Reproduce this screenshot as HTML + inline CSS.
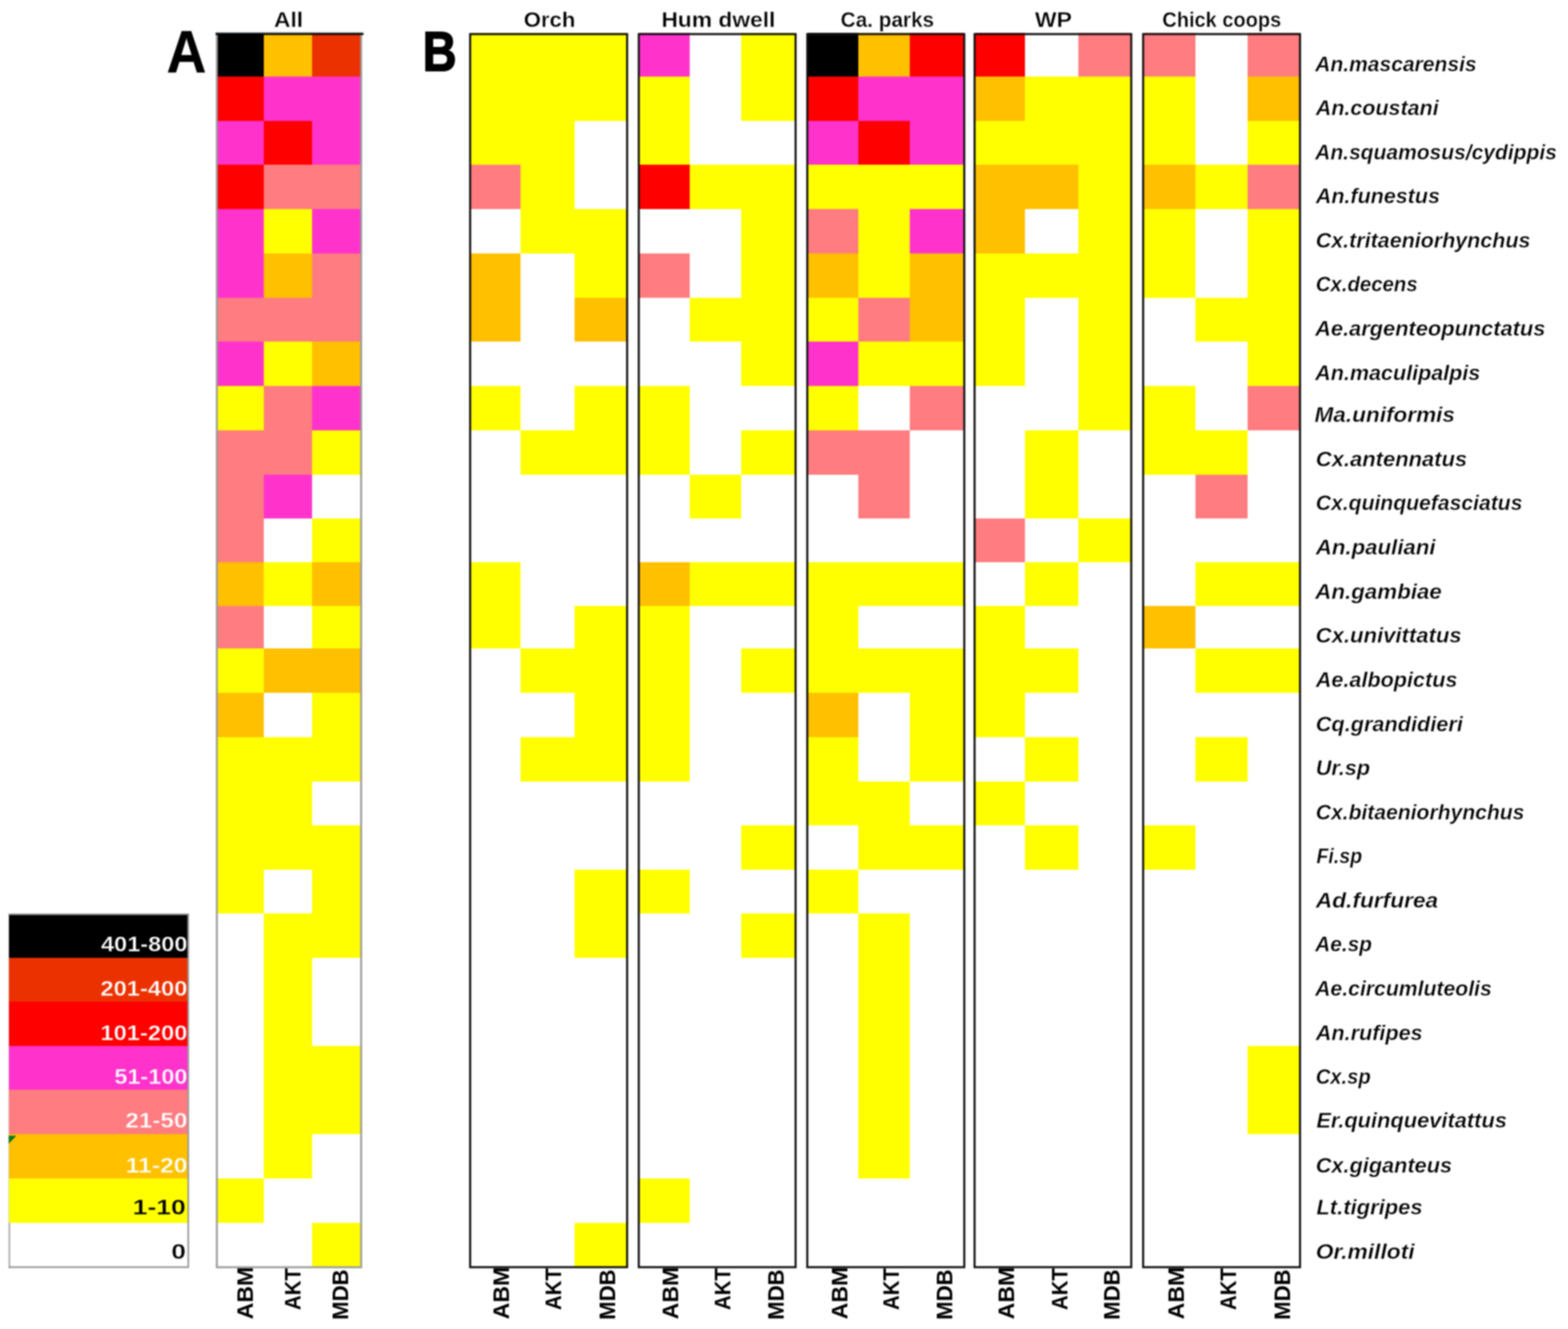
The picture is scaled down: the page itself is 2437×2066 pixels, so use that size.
<!DOCTYPE html>
<html><head><meta charset="utf-8"><title>Mosquito abundance heatmap</title>
<style>html,body{margin:0;padding:0;background:#fff;width:2437px;height:2066px}svg{display:block;filter:blur(0.80px)}text{font-family:"Liberation Sans",Arial,sans-serif;font-weight:bold}.it{font-style:italic}</style></head><body>
<svg width="2437" height="2066" viewBox="0 0 2437 2066">
<rect x="0" y="0" width="2437" height="2066" fill="#fff"/>
<rect x="13.5" y="1420.5" width="2.2" height="551" fill="#a0a0a0"/>
<g shape-rendering="crispEdges">
<rect x="336.00" y="50.50" width="74.10" height="68.30" fill="#000000"/>
<rect x="336.00" y="118.80" width="74.10" height="68.73" fill="#FF0000"/>
<rect x="336.00" y="187.53" width="74.10" height="68.73" fill="#FF33CC"/>
<rect x="336.00" y="256.27" width="74.10" height="68.73" fill="#FF0000"/>
<rect x="336.00" y="325.00" width="74.10" height="137.53" fill="#FF33CC"/>
<rect x="336.00" y="462.53" width="74.10" height="68.77" fill="#FF7C80"/>
<rect x="336.00" y="531.30" width="74.10" height="68.80" fill="#FF33CC"/>
<rect x="336.00" y="600.10" width="74.10" height="68.80" fill="#FFFF00"/>
<rect x="336.00" y="668.90" width="74.10" height="205.00" fill="#FF7C80"/>
<rect x="336.00" y="873.90" width="74.10" height="68.10" fill="#FFC000"/>
<rect x="336.00" y="942.00" width="74.10" height="65.90" fill="#FF7C80"/>
<rect x="336.00" y="1007.90" width="74.10" height="68.90" fill="#FFFF00"/>
<rect x="336.00" y="1076.80" width="74.10" height="68.90" fill="#FFC000"/>
<rect x="336.00" y="1145.70" width="74.10" height="274.48" fill="#FFFF00"/>
<rect x="336.00" y="1832.05" width="74.10" height="69.05" fill="#FFFF00"/>
<rect x="410.10" y="50.50" width="74.40" height="68.30" fill="#FFC000"/>
<rect x="410.10" y="118.80" width="74.40" height="68.73" fill="#FF33CC"/>
<rect x="410.10" y="187.53" width="74.40" height="68.73" fill="#FF0000"/>
<rect x="410.10" y="256.27" width="74.40" height="68.73" fill="#FF7C80"/>
<rect x="410.10" y="325.00" width="74.40" height="68.77" fill="#FFFF00"/>
<rect x="410.10" y="393.77" width="74.40" height="68.77" fill="#FFC000"/>
<rect x="410.10" y="462.53" width="74.40" height="68.77" fill="#FF7C80"/>
<rect x="410.10" y="531.30" width="74.40" height="68.80" fill="#FFFF00"/>
<rect x="410.10" y="600.10" width="74.40" height="137.60" fill="#FF7C80"/>
<rect x="410.10" y="737.70" width="74.40" height="68.10" fill="#FF33CC"/>
<rect x="410.10" y="873.90" width="74.40" height="68.10" fill="#FFFF00"/>
<rect x="410.10" y="1007.90" width="74.40" height="68.90" fill="#FFC000"/>
<rect x="410.10" y="1145.70" width="74.40" height="205.95" fill="#FFFF00"/>
<rect x="410.10" y="1420.17" width="74.40" height="411.88" fill="#FFFF00"/>
<rect x="484.50" y="50.50" width="76.00" height="68.30" fill="#EC3100"/>
<rect x="484.50" y="118.80" width="76.00" height="137.47" fill="#FF33CC"/>
<rect x="484.50" y="256.27" width="76.00" height="68.73" fill="#FF7C80"/>
<rect x="484.50" y="325.00" width="76.00" height="68.77" fill="#FF33CC"/>
<rect x="484.50" y="393.77" width="76.00" height="137.53" fill="#FF7C80"/>
<rect x="484.50" y="531.30" width="76.00" height="68.80" fill="#FFC000"/>
<rect x="484.50" y="600.10" width="76.00" height="68.80" fill="#FF33CC"/>
<rect x="484.50" y="668.90" width="76.00" height="68.80" fill="#FFFF00"/>
<rect x="484.50" y="805.80" width="76.00" height="68.10" fill="#FFFF00"/>
<rect x="484.50" y="873.90" width="76.00" height="68.10" fill="#FFC000"/>
<rect x="484.50" y="942.00" width="76.00" height="65.90" fill="#FFFF00"/>
<rect x="484.50" y="1007.90" width="76.00" height="68.90" fill="#FFC000"/>
<rect x="484.50" y="1076.80" width="76.00" height="137.80" fill="#FFFF00"/>
<rect x="484.50" y="1283.12" width="76.00" height="205.58" fill="#FFFF00"/>
<rect x="484.50" y="1625.50" width="76.00" height="137.50" fill="#FFFF00"/>
<rect x="484.50" y="1901.10" width="76.00" height="68.50" fill="#FFFF00"/>
<rect x="731.50" y="50.50" width="77.50" height="205.77" fill="#FFFF00"/>
<rect x="731.50" y="256.27" width="77.50" height="68.73" fill="#FF7C80"/>
<rect x="731.50" y="393.77" width="77.50" height="137.53" fill="#FFC000"/>
<rect x="731.50" y="600.10" width="77.50" height="68.80" fill="#FFFF00"/>
<rect x="731.50" y="873.90" width="77.50" height="134.00" fill="#FFFF00"/>
<rect x="809.00" y="50.50" width="83.60" height="343.27" fill="#FFFF00"/>
<rect x="809.00" y="668.90" width="83.60" height="68.80" fill="#FFFF00"/>
<rect x="809.00" y="1007.90" width="83.60" height="68.90" fill="#FFFF00"/>
<rect x="809.00" y="1145.70" width="83.60" height="68.90" fill="#FFFF00"/>
<rect x="892.60" y="50.50" width="80.90" height="137.03" fill="#FFFF00"/>
<rect x="892.60" y="325.00" width="80.90" height="137.53" fill="#FFFF00"/>
<rect x="892.60" y="462.53" width="80.90" height="68.77" fill="#FFC000"/>
<rect x="892.60" y="600.10" width="80.90" height="137.60" fill="#FFFF00"/>
<rect x="892.60" y="942.00" width="80.90" height="272.60" fill="#FFFF00"/>
<rect x="892.60" y="1351.65" width="80.90" height="137.05" fill="#FFFF00"/>
<rect x="892.60" y="1901.10" width="80.90" height="68.50" fill="#FFFF00"/>
<rect x="993.50" y="50.50" width="78.00" height="68.30" fill="#FF33CC"/>
<rect x="993.50" y="118.80" width="78.00" height="137.47" fill="#FFFF00"/>
<rect x="993.50" y="256.27" width="78.00" height="68.73" fill="#FF0000"/>
<rect x="993.50" y="393.77" width="78.00" height="68.77" fill="#FF7C80"/>
<rect x="993.50" y="600.10" width="78.00" height="137.60" fill="#FFFF00"/>
<rect x="993.50" y="873.90" width="78.00" height="68.10" fill="#FFC000"/>
<rect x="993.50" y="942.00" width="78.00" height="272.60" fill="#FFFF00"/>
<rect x="993.50" y="1351.65" width="78.00" height="68.52" fill="#FFFF00"/>
<rect x="993.50" y="1832.05" width="78.00" height="69.05" fill="#FFFF00"/>
<rect x="1071.50" y="256.27" width="80.10" height="68.73" fill="#FFFF00"/>
<rect x="1071.50" y="462.53" width="80.10" height="68.77" fill="#FFFF00"/>
<rect x="1071.50" y="737.70" width="80.10" height="68.10" fill="#FFFF00"/>
<rect x="1071.50" y="873.90" width="80.10" height="68.10" fill="#FFFF00"/>
<rect x="1151.60" y="50.50" width="83.60" height="137.03" fill="#FFFF00"/>
<rect x="1151.60" y="256.27" width="83.60" height="343.83" fill="#FFFF00"/>
<rect x="1151.60" y="668.90" width="83.60" height="68.80" fill="#FFFF00"/>
<rect x="1151.60" y="873.90" width="83.60" height="68.10" fill="#FFFF00"/>
<rect x="1151.60" y="1007.90" width="83.60" height="68.90" fill="#FFFF00"/>
<rect x="1151.60" y="1283.12" width="83.60" height="68.53" fill="#FFFF00"/>
<rect x="1151.60" y="1420.17" width="83.60" height="68.53" fill="#FFFF00"/>
<rect x="1255.50" y="50.50" width="78.00" height="68.30" fill="#000000"/>
<rect x="1255.50" y="118.80" width="78.00" height="68.73" fill="#FF0000"/>
<rect x="1255.50" y="187.53" width="78.00" height="68.73" fill="#FF33CC"/>
<rect x="1255.50" y="256.27" width="78.00" height="68.73" fill="#FFFF00"/>
<rect x="1255.50" y="325.00" width="78.00" height="68.77" fill="#FF7C80"/>
<rect x="1255.50" y="393.77" width="78.00" height="68.77" fill="#FFC000"/>
<rect x="1255.50" y="462.53" width="78.00" height="68.77" fill="#FFFF00"/>
<rect x="1255.50" y="531.30" width="78.00" height="68.80" fill="#FF33CC"/>
<rect x="1255.50" y="600.10" width="78.00" height="68.80" fill="#FFFF00"/>
<rect x="1255.50" y="668.90" width="78.00" height="68.80" fill="#FF7C80"/>
<rect x="1255.50" y="873.90" width="78.00" height="202.90" fill="#FFFF00"/>
<rect x="1255.50" y="1076.80" width="78.00" height="68.90" fill="#FFC000"/>
<rect x="1255.50" y="1145.70" width="78.00" height="137.43" fill="#FFFF00"/>
<rect x="1255.50" y="1351.65" width="78.00" height="68.52" fill="#FFFF00"/>
<rect x="1333.50" y="50.50" width="80.60" height="68.30" fill="#FFC000"/>
<rect x="1333.50" y="118.80" width="80.60" height="68.73" fill="#FF33CC"/>
<rect x="1333.50" y="187.53" width="80.60" height="68.73" fill="#FF0000"/>
<rect x="1333.50" y="256.27" width="80.60" height="206.27" fill="#FFFF00"/>
<rect x="1333.50" y="462.53" width="80.60" height="68.77" fill="#FF7C80"/>
<rect x="1333.50" y="531.30" width="80.60" height="68.80" fill="#FFFF00"/>
<rect x="1333.50" y="668.90" width="80.60" height="136.90" fill="#FF7C80"/>
<rect x="1333.50" y="873.90" width="80.60" height="68.10" fill="#FFFF00"/>
<rect x="1333.50" y="1007.90" width="80.60" height="68.90" fill="#FFFF00"/>
<rect x="1333.50" y="1214.60" width="80.60" height="137.05" fill="#FFFF00"/>
<rect x="1333.50" y="1420.17" width="80.60" height="411.88" fill="#FFFF00"/>
<rect x="1414.10" y="50.50" width="83.40" height="68.30" fill="#FF0000"/>
<rect x="1414.10" y="118.80" width="83.40" height="137.47" fill="#FF33CC"/>
<rect x="1414.10" y="256.27" width="83.40" height="68.73" fill="#FFFF00"/>
<rect x="1414.10" y="325.00" width="83.40" height="68.77" fill="#FF33CC"/>
<rect x="1414.10" y="393.77" width="83.40" height="137.53" fill="#FFC000"/>
<rect x="1414.10" y="531.30" width="83.40" height="68.80" fill="#FFFF00"/>
<rect x="1414.10" y="600.10" width="83.40" height="68.80" fill="#FF7C80"/>
<rect x="1414.10" y="873.90" width="83.40" height="68.10" fill="#FFFF00"/>
<rect x="1414.10" y="1007.90" width="83.40" height="206.70" fill="#FFFF00"/>
<rect x="1414.10" y="1283.12" width="83.40" height="68.53" fill="#FFFF00"/>
<rect x="1515.50" y="50.50" width="77.50" height="68.30" fill="#FF0000"/>
<rect x="1515.50" y="118.80" width="77.50" height="68.73" fill="#FFC000"/>
<rect x="1515.50" y="187.53" width="77.50" height="68.73" fill="#FFFF00"/>
<rect x="1515.50" y="256.27" width="77.50" height="137.50" fill="#FFC000"/>
<rect x="1515.50" y="393.77" width="77.50" height="206.33" fill="#FFFF00"/>
<rect x="1515.50" y="805.80" width="77.50" height="68.10" fill="#FF7C80"/>
<rect x="1515.50" y="942.00" width="77.50" height="203.70" fill="#FFFF00"/>
<rect x="1515.50" y="1214.60" width="77.50" height="68.53" fill="#FFFF00"/>
<rect x="1593.00" y="118.80" width="83.40" height="137.47" fill="#FFFF00"/>
<rect x="1593.00" y="256.27" width="83.40" height="68.73" fill="#FFC000"/>
<rect x="1593.00" y="393.77" width="83.40" height="68.77" fill="#FFFF00"/>
<rect x="1593.00" y="668.90" width="83.40" height="136.90" fill="#FFFF00"/>
<rect x="1593.00" y="873.90" width="83.40" height="68.10" fill="#FFFF00"/>
<rect x="1593.00" y="1007.90" width="83.40" height="68.90" fill="#FFFF00"/>
<rect x="1593.00" y="1145.70" width="83.40" height="68.90" fill="#FFFF00"/>
<rect x="1593.00" y="1283.12" width="83.40" height="68.53" fill="#FFFF00"/>
<rect x="1676.40" y="50.50" width="80.60" height="68.30" fill="#FF7C80"/>
<rect x="1676.40" y="118.80" width="80.60" height="550.10" fill="#FFFF00"/>
<rect x="1676.40" y="805.80" width="80.60" height="68.10" fill="#FFFF00"/>
<rect x="1777.50" y="50.50" width="80.50" height="68.30" fill="#FF7C80"/>
<rect x="1777.50" y="118.80" width="80.50" height="137.47" fill="#FFFF00"/>
<rect x="1777.50" y="256.27" width="80.50" height="68.73" fill="#FFC000"/>
<rect x="1777.50" y="325.00" width="80.50" height="137.53" fill="#FFFF00"/>
<rect x="1777.50" y="600.10" width="80.50" height="137.60" fill="#FFFF00"/>
<rect x="1777.50" y="942.00" width="80.50" height="65.90" fill="#FFC000"/>
<rect x="1777.50" y="1283.12" width="80.50" height="68.53" fill="#FFFF00"/>
<rect x="1858.00" y="256.27" width="80.70" height="68.73" fill="#FFFF00"/>
<rect x="1858.00" y="462.53" width="80.70" height="68.77" fill="#FFFF00"/>
<rect x="1858.00" y="668.90" width="80.70" height="68.80" fill="#FFFF00"/>
<rect x="1858.00" y="737.70" width="80.70" height="68.10" fill="#FF7C80"/>
<rect x="1858.00" y="873.90" width="80.70" height="68.10" fill="#FFFF00"/>
<rect x="1858.00" y="1007.90" width="80.70" height="68.90" fill="#FFFF00"/>
<rect x="1858.00" y="1145.70" width="80.70" height="68.90" fill="#FFFF00"/>
<rect x="1938.70" y="50.50" width="80.80" height="68.30" fill="#FF7C80"/>
<rect x="1938.70" y="118.80" width="80.80" height="68.73" fill="#FFC000"/>
<rect x="1938.70" y="187.53" width="80.80" height="68.73" fill="#FFFF00"/>
<rect x="1938.70" y="256.27" width="80.80" height="68.73" fill="#FF7C80"/>
<rect x="1938.70" y="325.00" width="80.80" height="275.10" fill="#FFFF00"/>
<rect x="1938.70" y="600.10" width="80.80" height="68.80" fill="#FF7C80"/>
<rect x="1938.70" y="873.90" width="80.80" height="68.10" fill="#FFFF00"/>
<rect x="1938.70" y="1007.90" width="80.80" height="68.90" fill="#FFFF00"/>
<rect x="1938.70" y="1625.50" width="80.80" height="137.50" fill="#FFFF00"/>
<rect x="13.5" y="1420.17" width="278.00" height="68.54" fill="#000000"/>
<rect x="13.5" y="1488.70" width="278.00" height="68.54" fill="#EC3100"/>
<rect x="13.5" y="1557.20" width="278.00" height="68.54" fill="#FF0000"/>
<rect x="13.5" y="1625.50" width="278.00" height="68.54" fill="#FF33CC"/>
<rect x="13.5" y="1694.00" width="278.00" height="68.54" fill="#FF7C80"/>
<rect x="13.5" y="1763.00" width="278.00" height="68.54" fill="#FFC000"/>
<rect x="13.5" y="1832.05" width="278.00" height="68.54" fill="#FFFF00"/>
</g>
<path d="M337 54 V1969.9 H561.3 V54" fill="none" stroke="#9a9a9a" stroke-width="3"/>
<rect x="335" y="50" width="230" height="1.8" fill="#8a9aa0"/>
<rect x="335" y="51.6" width="230" height="2.8" fill="#000"/>
<rect x="730.70" y="53" width="244.00" height="1916.90" fill="none" stroke="#111" stroke-width="3.2"/>
<rect x="992.80" y="53" width="243.70" height="1916.90" fill="none" stroke="#111" stroke-width="3.2"/>
<rect x="1254.70" y="53" width="244.00" height="1916.90" fill="none" stroke="#111" stroke-width="3.2"/>
<rect x="1514.70" y="53" width="243.50" height="1916.90" fill="none" stroke="#111" stroke-width="3.2"/>
<rect x="1776.70" y="53" width="243.80" height="1916.90" fill="none" stroke="#111" stroke-width="3.2"/>
<path d="M13.5 1421.3 H292.6 V1969.9 H13.5" fill="none" stroke="#9a9a9a" stroke-width="2.6"/>
<polygon points="13.5,1765.5 25.5,1765.5 13.5,1778" fill="#0a7a1e"/>
<text x="425.73" y="42.00" font-size="34" stroke="#FFFFFF" stroke-width="0.50" textLength="45.55" lengthAdjust="spacingAndGlyphs">All</text>
<text x="813.93" y="42.00" font-size="34" stroke="#FFFFFF" stroke-width="0.50" textLength="80.20" lengthAdjust="spacingAndGlyphs">Orch</text>
<text x="1027.91" y="42.00" font-size="34" stroke="#FFFFFF" stroke-width="0.50" textLength="177.22" lengthAdjust="spacingAndGlyphs">Hum dwell</text>
<text x="1306.60" y="42.00" font-size="34" stroke="#FFFFFF" stroke-width="0.50" textLength="145.19" lengthAdjust="spacingAndGlyphs">Ca. parks</text>
<text x="1608.59" y="42.00" font-size="34" stroke="#FFFFFF" stroke-width="0.50" textLength="57.40" lengthAdjust="spacingAndGlyphs">WP</text>
<text x="1806.49" y="42.00" font-size="34" stroke="#FFFFFF" stroke-width="0.50" textLength="184.85" lengthAdjust="spacingAndGlyphs">Chick coops</text>
<text x="259.11" y="112.40" font-size="92" stroke="#000" stroke-width="0.60" textLength="61.63" lengthAdjust="spacingAndGlyphs">A</text>
<text x="657.05" y="110.30" font-size="86.5" stroke="#000" stroke-width="2.20" textLength="52.59" lengthAdjust="spacingAndGlyphs">B</text>
<text class="it" x="2044.09" y="111.00" font-size="33.5" stroke="#FFFFFF" stroke-width="0.50" textLength="250.90" lengthAdjust="spacingAndGlyphs">An.mascarensis</text>
<text class="it" x="2045.07" y="179.30" font-size="33.5" stroke="#FFFFFF" stroke-width="0.50" textLength="190.87" lengthAdjust="spacingAndGlyphs">An.coustani</text>
<text class="it" x="2044.10" y="248.10" font-size="33.5" stroke="#FFFFFF" stroke-width="0.50" textLength="375.52" lengthAdjust="spacingAndGlyphs">An.squamosus/cydippis</text>
<text class="it" x="2045.08" y="316.20" font-size="33.5" stroke="#FFFFFF" stroke-width="0.50" textLength="192.87" lengthAdjust="spacingAndGlyphs">An.funestus</text>
<text class="it" x="2044.97" y="384.70" font-size="33.5" stroke="#FFFFFF" stroke-width="0.50" textLength="333.61" lengthAdjust="spacingAndGlyphs">Cx.tritaeniorhynchus</text>
<text class="it" x="2044.97" y="453.20" font-size="33.5" stroke="#FFFFFF" stroke-width="0.50" textLength="158.35" lengthAdjust="spacingAndGlyphs">Cx.decens</text>
<text class="it" x="2044.10" y="522.20" font-size="33.5" stroke="#FFFFFF" stroke-width="0.50" textLength="357.74" lengthAdjust="spacingAndGlyphs">Ae.argenteopunctatus</text>
<text class="it" x="2044.09" y="590.70" font-size="33.5" stroke="#FFFFFF" stroke-width="0.50" textLength="256.61" lengthAdjust="spacingAndGlyphs">An.maculipalpis</text>
<text class="it" x="2043.06" y="656.20" font-size="33.5" stroke="#FFFFFF" stroke-width="0.50" textLength="218.35" lengthAdjust="spacingAndGlyphs">Ma.uniformis</text>
<text class="it" x="2045.05" y="724.70" font-size="33.5" stroke="#FFFFFF" stroke-width="0.50" textLength="235.30" lengthAdjust="spacingAndGlyphs">Cx.antennatus</text>
<text class="it" x="2044.98" y="793.20" font-size="33.5" stroke="#FFFFFF" stroke-width="0.50" textLength="321.22" lengthAdjust="spacingAndGlyphs">Cx.quinquefasciatus</text>
<text class="it" x="2045.09" y="862.20" font-size="33.5" stroke="#FFFFFF" stroke-width="0.50" textLength="186.13" lengthAdjust="spacingAndGlyphs">An.pauliani</text>
<text class="it" x="2044.10" y="930.70" font-size="33.5" stroke="#FFFFFF" stroke-width="0.50" textLength="196.86" lengthAdjust="spacingAndGlyphs">An.gambiae</text>
<text class="it" x="2044.88" y="999.10" font-size="33.5" stroke="#FFFFFF" stroke-width="0.50" textLength="226.83" lengthAdjust="spacingAndGlyphs">Cx.univittatus</text>
<text class="it" x="2045.09" y="1067.60" font-size="33.5" stroke="#FFFFFF" stroke-width="0.50" textLength="220.04" lengthAdjust="spacingAndGlyphs">Ae.albopictus</text>
<text class="it" x="2044.99" y="1136.70" font-size="33.5" stroke="#FFFFFF" stroke-width="0.50" textLength="228.52" lengthAdjust="spacingAndGlyphs">Cq.grandidieri</text>
<text class="it" x="2044.97" y="1205.20" font-size="33.5" stroke="#FFFFFF" stroke-width="0.50" textLength="84.52" lengthAdjust="spacingAndGlyphs">Ur.sp</text>
<text class="it" x="2044.98" y="1273.60" font-size="33.5" stroke="#FFFFFF" stroke-width="0.50" textLength="324.20" lengthAdjust="spacingAndGlyphs">Cx.bitaeniorhynchus</text>
<text class="it" x="2045.97" y="1342.00" font-size="33.5" stroke="#FFFFFF" stroke-width="0.50" textLength="71.06" lengthAdjust="spacingAndGlyphs">Fi.sp</text>
<text class="it" x="2045.09" y="1410.50" font-size="33.5" stroke="#FFFFFF" stroke-width="0.50" textLength="190.14" lengthAdjust="spacingAndGlyphs">Ad.furfurea</text>
<text class="it" x="2044.08" y="1479.35" font-size="33.5" stroke="#FFFFFF" stroke-width="0.50" textLength="88.09" lengthAdjust="spacingAndGlyphs">Ae.sp</text>
<text class="it" x="2044.10" y="1548.25" font-size="33.5" stroke="#FFFFFF" stroke-width="0.50" textLength="274.44" lengthAdjust="spacingAndGlyphs">Ae.circumluteolis</text>
<text class="it" x="2045.09" y="1616.70" font-size="33.5" stroke="#FFFFFF" stroke-width="0.50" textLength="165.92" lengthAdjust="spacingAndGlyphs">An.rufipes</text>
<text class="it" x="2044.95" y="1685.15" font-size="33.5" stroke="#FFFFFF" stroke-width="0.50" textLength="85.51" lengthAdjust="spacingAndGlyphs">Cx.sp</text>
<text class="it" x="2045.99" y="1753.05" font-size="33.5" stroke="#FFFFFF" stroke-width="0.50" textLength="296.03" lengthAdjust="spacingAndGlyphs">Er.quinquevitattus</text>
<text class="it" x="2044.94" y="1822.90" font-size="33.5" stroke="#FFFFFF" stroke-width="0.50" textLength="211.81" lengthAdjust="spacingAndGlyphs">Cx.giganteus</text>
<text class="it" x="2045.98" y="1888.30" font-size="33.5" stroke="#FFFFFF" stroke-width="0.50" textLength="165.07" lengthAdjust="spacingAndGlyphs">Lt.tigripes</text>
<text class="it" x="2045.00" y="1956.65" font-size="33.5" stroke="#FFFFFF" stroke-width="0.50" textLength="153.59" lengthAdjust="spacingAndGlyphs">Or.milloti</text>
<text x="157.00" y="1479.35" font-size="33" fill="#FFFFFF" stroke="#000000" stroke-width="0.50" textLength="134.34" lengthAdjust="spacingAndGlyphs">401-800</text>
<text x="155.98" y="1548.25" font-size="33" fill="#FFFFFF" stroke="#EC3100" stroke-width="0.50" textLength="135.38" lengthAdjust="spacingAndGlyphs">201-400</text>
<text x="155.94" y="1616.70" font-size="33" fill="#FFFFFF" stroke="#FF0000" stroke-width="0.50" textLength="135.40" lengthAdjust="spacingAndGlyphs">101-200</text>
<text x="177.78" y="1685.15" font-size="33" fill="#FFFFFF" stroke="#FF33CC" stroke-width="0.50" textLength="113.49" lengthAdjust="spacingAndGlyphs">51-100</text>
<text x="194.68" y="1753.05" font-size="33" fill="#FFFFFF" stroke="#FF7C80" stroke-width="0.50" textLength="96.69" lengthAdjust="spacingAndGlyphs">21-50</text>
<text x="195.30" y="1822.90" font-size="33" fill="#FFFFFF" stroke="#FFC000" stroke-width="0.50" textLength="96.14" lengthAdjust="spacingAndGlyphs">11-20</text>
<text x="206.19" y="1888.30" font-size="33" fill="#000000" stroke="#FFFF00" stroke-width="0.50" textLength="82.57" lengthAdjust="spacingAndGlyphs">1-10</text>
<text x="266.36" y="1956.65" font-size="33" fill="#000000" stroke="#FFFFFF" stroke-width="0.50" textLength="22.63" lengthAdjust="spacingAndGlyphs">0</text>
<text transform="translate(392.50 1969.30) rotate(-90)" font-size="35.6" textLength="81.74" lengthAdjust="spacingAndGlyphs" text-anchor="end">ABM</text>
<text transform="translate(467.00 1971.33) rotate(-90)" font-size="35.6" textLength="65.21" lengthAdjust="spacingAndGlyphs" text-anchor="end">AKT</text>
<text transform="translate(541.40 1973.41) rotate(-90)" font-size="35.6" textLength="78.23" lengthAdjust="spacingAndGlyphs" text-anchor="end">MDB</text>
<text transform="translate(791.40 1969.30) rotate(-90)" font-size="35.6" textLength="81.74" lengthAdjust="spacingAndGlyphs" text-anchor="end">ABM</text>
<text transform="translate(871.80 1971.33) rotate(-90)" font-size="35.6" textLength="65.21" lengthAdjust="spacingAndGlyphs" text-anchor="end">AKT</text>
<text transform="translate(955.50 1973.41) rotate(-90)" font-size="35.6" textLength="78.23" lengthAdjust="spacingAndGlyphs" text-anchor="end">MDB</text>
<text transform="translate(1053.90 1969.30) rotate(-90)" font-size="35.6" textLength="81.74" lengthAdjust="spacingAndGlyphs" text-anchor="end">ABM</text>
<text transform="translate(1135.20 1971.33) rotate(-90)" font-size="35.6" textLength="65.21" lengthAdjust="spacingAndGlyphs" text-anchor="end">AKT</text>
<text transform="translate(1218.20 1973.41) rotate(-90)" font-size="35.6" textLength="78.23" lengthAdjust="spacingAndGlyphs" text-anchor="end">MDB</text>
<text transform="translate(1316.80 1969.30) rotate(-90)" font-size="35.6" textLength="81.74" lengthAdjust="spacingAndGlyphs" text-anchor="end">ABM</text>
<text transform="translate(1397.20 1971.33) rotate(-90)" font-size="35.6" textLength="65.21" lengthAdjust="spacingAndGlyphs" text-anchor="end">AKT</text>
<text transform="translate(1480.30 1973.41) rotate(-90)" font-size="35.6" textLength="78.23" lengthAdjust="spacingAndGlyphs" text-anchor="end">MDB</text>
<text transform="translate(1575.80 1969.30) rotate(-90)" font-size="35.6" textLength="81.74" lengthAdjust="spacingAndGlyphs" text-anchor="end">ABM</text>
<text transform="translate(1658.80 1971.33) rotate(-90)" font-size="35.6" textLength="65.21" lengthAdjust="spacingAndGlyphs" text-anchor="end">AKT</text>
<text transform="translate(1740.00 1973.41) rotate(-90)" font-size="35.6" textLength="78.23" lengthAdjust="spacingAndGlyphs" text-anchor="end">MDB</text>
<text transform="translate(1839.90 1969.30) rotate(-90)" font-size="35.6" textLength="81.74" lengthAdjust="spacingAndGlyphs" text-anchor="end">ABM</text>
<text transform="translate(1920.90 1971.33) rotate(-90)" font-size="35.6" textLength="65.21" lengthAdjust="spacingAndGlyphs" text-anchor="end">AKT</text>
<text transform="translate(2004.70 1973.41) rotate(-90)" font-size="35.6" textLength="78.23" lengthAdjust="spacingAndGlyphs" text-anchor="end">MDB</text>
</svg></body></html>
